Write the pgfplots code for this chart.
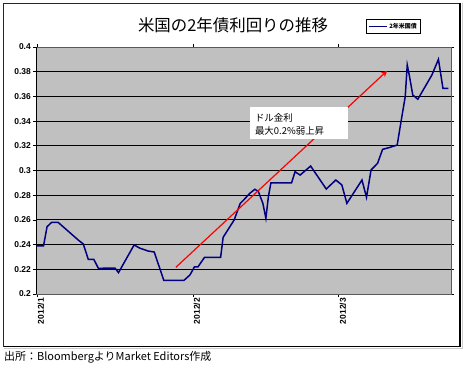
\documentclass[border=0pt]{standalone}
\usepackage{pgfplots}
\pgfplotsset{compat=1.18}
\usepackage{fontspec}
\setmainfont{Liberation Sans}
\newfontfamily\jp{Noto Sans CJK JP}
\usetikzlibrary{arrows.meta}
\definecolor{plotgray}{HTML}{C0C0C0}
\definecolor{navy}{HTML}{000080}
\begin{document}
\begin{tikzpicture}[x=1bp,y=1bp]
\path[use as bounding box] (0,0) rectangle (466,368);
\draw[line width=0.8bp, black!85] (3.5,21.5) rectangle (460,365);
\draw[line width=1.8bp, black] (460,365) -- (460,21.5) -- (3.5,21.5);
\draw[line width=0.8bp, gray!40] (462.5,365) -- (462.5,19.5) -- (3.5,19.5);
\begin{axis}[
  at={(36bp,74bp)}, anchor=south west, scale only axis,
  width=415bp, height=247bp,
  xmin=-0.2, xmax=82.3, ymin=0.2, ymax=0.4,
  axis background/.style={fill=plotgray},
  axis line style={draw=gray!70!black, line width=0.8bp},
  ytick={0.2,0.22,0.24,0.26,0.28,0.3,0.32,0.34,0.36,0.38,0.4},
  yticklabels={0.2,0.22,0.24,0.26,0.28,0.3,0.32,0.34,0.36,0.38,0.4},
  xtick={0,31,60},
  xticklabels={2012/1,2012/2,2012/3},
  ymajorgrids, grid style={black, line width=0.9bp},
  tick align=outside, major tick length=3bp,
  tick style={black, line width=0.8bp},
  /pgf/number format/assume math mode=true,
  yticklabel style={font=\fontsize{8.5}{10}\selectfont\bfseries, inner sep=1bp, xshift=-1bp},
  xticklabel style={font=\fontsize{8.5}{10}\selectfont\bfseries, rotate=90, anchor=east, inner sep=1bp, yshift=-4bp},
  legend style={at={(0.795,1.113)}, anchor=north west, draw=black, line width=0.8bp,
    fill=white, font=\jp\fontsize{6}{7}\selectfont\bfseries, inner sep=1.5bp,
    legend cell align=left},
  legend image code/.code={\draw[#1] (0bp,0bp) -- (18bp,0bp);},
  clip=false,
]
\addplot[navy, line width=1.5bp] coordinates {
(0,0.239) (1.3,0.239) (2.0,0.2545) (2.9,0.258) (4.2,0.258) (8.2,0.2437)
(9.2,0.2405) (10.2,0.228) (11.3,0.228) (12.2,0.2208) (15.5,0.221) (16.2,0.2173)
(19.3,0.2397) (20.5,0.237) (22.1,0.2348) (23.3,0.234) (24.3,0.222) (25.2,0.2110)
(29.2,0.211) (30.4,0.2154) (31.3,0.222) (32.0,0.222) (33.3,0.2297) (36.5,0.2297)
(37.0,0.2459) (39.2,0.260) (40.4,0.2734) (41.4,0.2775) (42.3,0.2815) (43.3,0.2848)
(44.0,0.283) (44.9,0.2734) (45.5,0.2613) (46.0,0.279) (46.5,0.290) (50.6,0.290)
(51.3,0.299) (52.3,0.2963) (54.4,0.3036) (57.5,0.285) (59.4,0.2923) (60.6,0.2883)
(61.6,0.2734) (64.6,0.2923) (65.5,0.2783) (66.4,0.3004) (67.7,0.3058) (68.7,0.3171)
(70.2,0.3188) (71.6,0.3206) (72.3,0.338) (73.2,0.3598) (73.6,0.3854) (74.0,0.3773)
(74.7,0.3611) (75.7,0.3577) (78.5,0.3773) (79.8,0.390) (80.7,0.3665) (81.8,0.3665)
};
\addlegendentry{2年米国債}
\addplot[red, line width=1.2bp, -{Stealth[length=6bp,width=6bp]}, forget plot] coordinates {
(27.6,0.2216) (69.6,0.3807)
};
\draw[black, line width=0.9bp] (rel axis cs:0,0) -- (rel axis cs:0,1);
\node[fill=white, anchor=north west, minimum width=98bp, minimum height=32.6bp, inner sep=0pt]
  at (axis cs:42.3,0.3517) {};
\node[anchor=north west, align=left, inner sep=0pt, font=\jp\fontsize{9.5}{13}\selectfont]
  at (axis cs:43.3,0.3465) {ドル金利\\最大0.2\%弱上昇};
\end{axis}
\node[font=\jp\fontsize{16.5}{18}\selectfont] at (233,343) {米国の2年債利回りの推移};
\node[anchor=west, inner sep=0pt, font=\jp\fontsize{11}{12}\selectfont] at (4,11) {出所：BloombergよりMarket Editors作成};
\end{tikzpicture}
\end{document}
